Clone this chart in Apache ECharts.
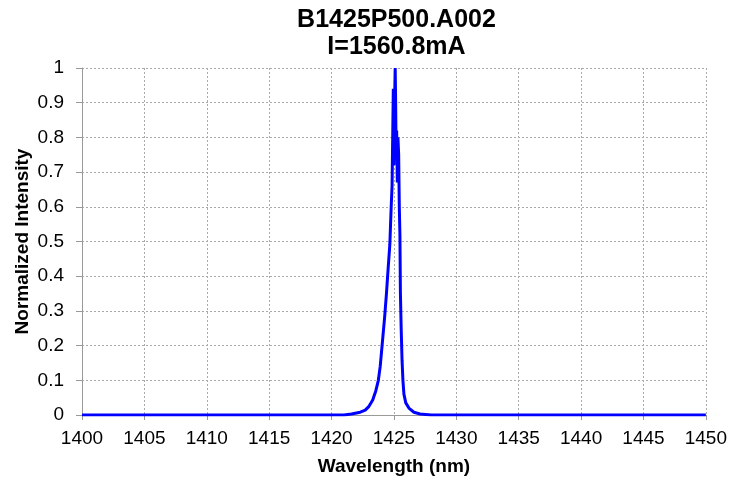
<!DOCTYPE html>
<html><head><meta charset="utf-8">
<script src="https://cdn.jsdelivr.net/npm/echarts@6/dist/echarts.min.js"></script>
<style>html,body{margin:0;padding:0;background:#fff}#c{width:730px;height:484px}</style>
</head><body><div id="c"></div>
<script>
var titleText = "B1425P500.A002";
var subtitleText = "I=1560.8mA";
var xAxisName = "Wavelength (nm)";
var yAxisName = "Normalized Intensity";
var wavelength = [1400, 1421.0, 1421.6, 1422.3, 1422.7, 1423.0, 1423.3, 1423.55, 1423.75, 1423.9, 1424.05, 1424.25, 1424.4, 1424.55, 1424.67, 1424.78, 1424.85, 1424.9, 1424.95, 1425.0, 1425.05, 1425.1, 1425.13, 1425.18, 1425.22, 1425.27, 1425.32, 1425.38, 1425.43, 1425.48, 1425.52, 1425.58, 1425.65, 1425.72, 1425.8, 1425.95, 1426.2, 1426.6, 1427.1, 1428, 1450];
var intensity = [0, 0, 0.003, 0.008, 0.014, 0.025, 0.043, 0.07, 0.1, 0.14, 0.2, 0.28, 0.35, 0.43, 0.49, 0.6, 0.66, 0.8, 0.94, 0.72, 0.9, 1.0, 0.92, 0.75, 0.82, 0.67, 0.8, 0.75, 0.6, 0.52, 0.35, 0.25, 0.158, 0.1, 0.06, 0.035, 0.02, 0.008, 0.003, 0, 0];

var data = wavelength.map(function (w, i) { return [w, intensity[i]]; });
var chart = echarts.init(document.getElementById('c'), null, {renderer: 'canvas'});
var font = 'Liberation Sans, Arial, sans-serif';
chart.setOption({
  animation: false,
  title: [
    {text: titleText, left: 391.5, top: 3, textAlign: 'center',
     textStyle: {fontFamily: font, fontSize: 25, fontWeight: 'bold', color: '#000'}},
    {text: subtitleText, left: 391.5, top: 30, textAlign: 'center',
     textStyle: {fontFamily: font, fontSize: 25, fontWeight: 'bold', color: '#000'}}
  ],
  grid: {left: 82, right: 24, top: 68, bottom: 69, containLabel: false},
  xAxis: {
    type: 'value', min: 1400, max: 1450, interval: 5,
    name: xAxisName, nameLocation: 'middle', nameGap: 42, nameMoveOverlap: false,
    nameTextStyle: {fontFamily: font, fontSize: 19, fontWeight: 'bold', color: '#000'},
    axisLine: {show: true, lineStyle: {color: '#999', width: 1}},
    axisTick: {show: true, length: 5, lineStyle: {color: '#999'}},
    axisLabel: {fontFamily: font, fontSize: 19, color: '#000', margin: 14,
      formatter: function (v) { return String(v); }},
    splitLine: {show: true, lineStyle: {color: '#aaa', type: [2, 2], width: 1}}
  },
  yAxis: {
    type: 'value', min: 0, max: 1, interval: 0.1,
    name: yAxisName, nameLocation: 'middle', nameGap: 50, nameMoveOverlap: false,
    nameTextStyle: {fontFamily: font, fontSize: 19, fontWeight: 'bold', color: '#000'},
    axisLine: {show: true, lineStyle: {color: '#999', width: 1}},
    axisTick: {show: true, length: 6, lineStyle: {color: '#999'}},
    axisLabel: {fontFamily: font, fontSize: 19, color: '#000', margin: 18,
      formatter: function (v) { return String(Math.round(v * 10) / 10); }},
    splitLine: {show: true, lineStyle: {color: '#aaa', type: [2, 2], width: 1}}
  },
  series: [{
    type: 'line', data: data, showSymbol: false, symbol: 'none',
    lineStyle: {color: '#0000ff', width: 3}, z: 5
  }]
});
</script></body></html>
